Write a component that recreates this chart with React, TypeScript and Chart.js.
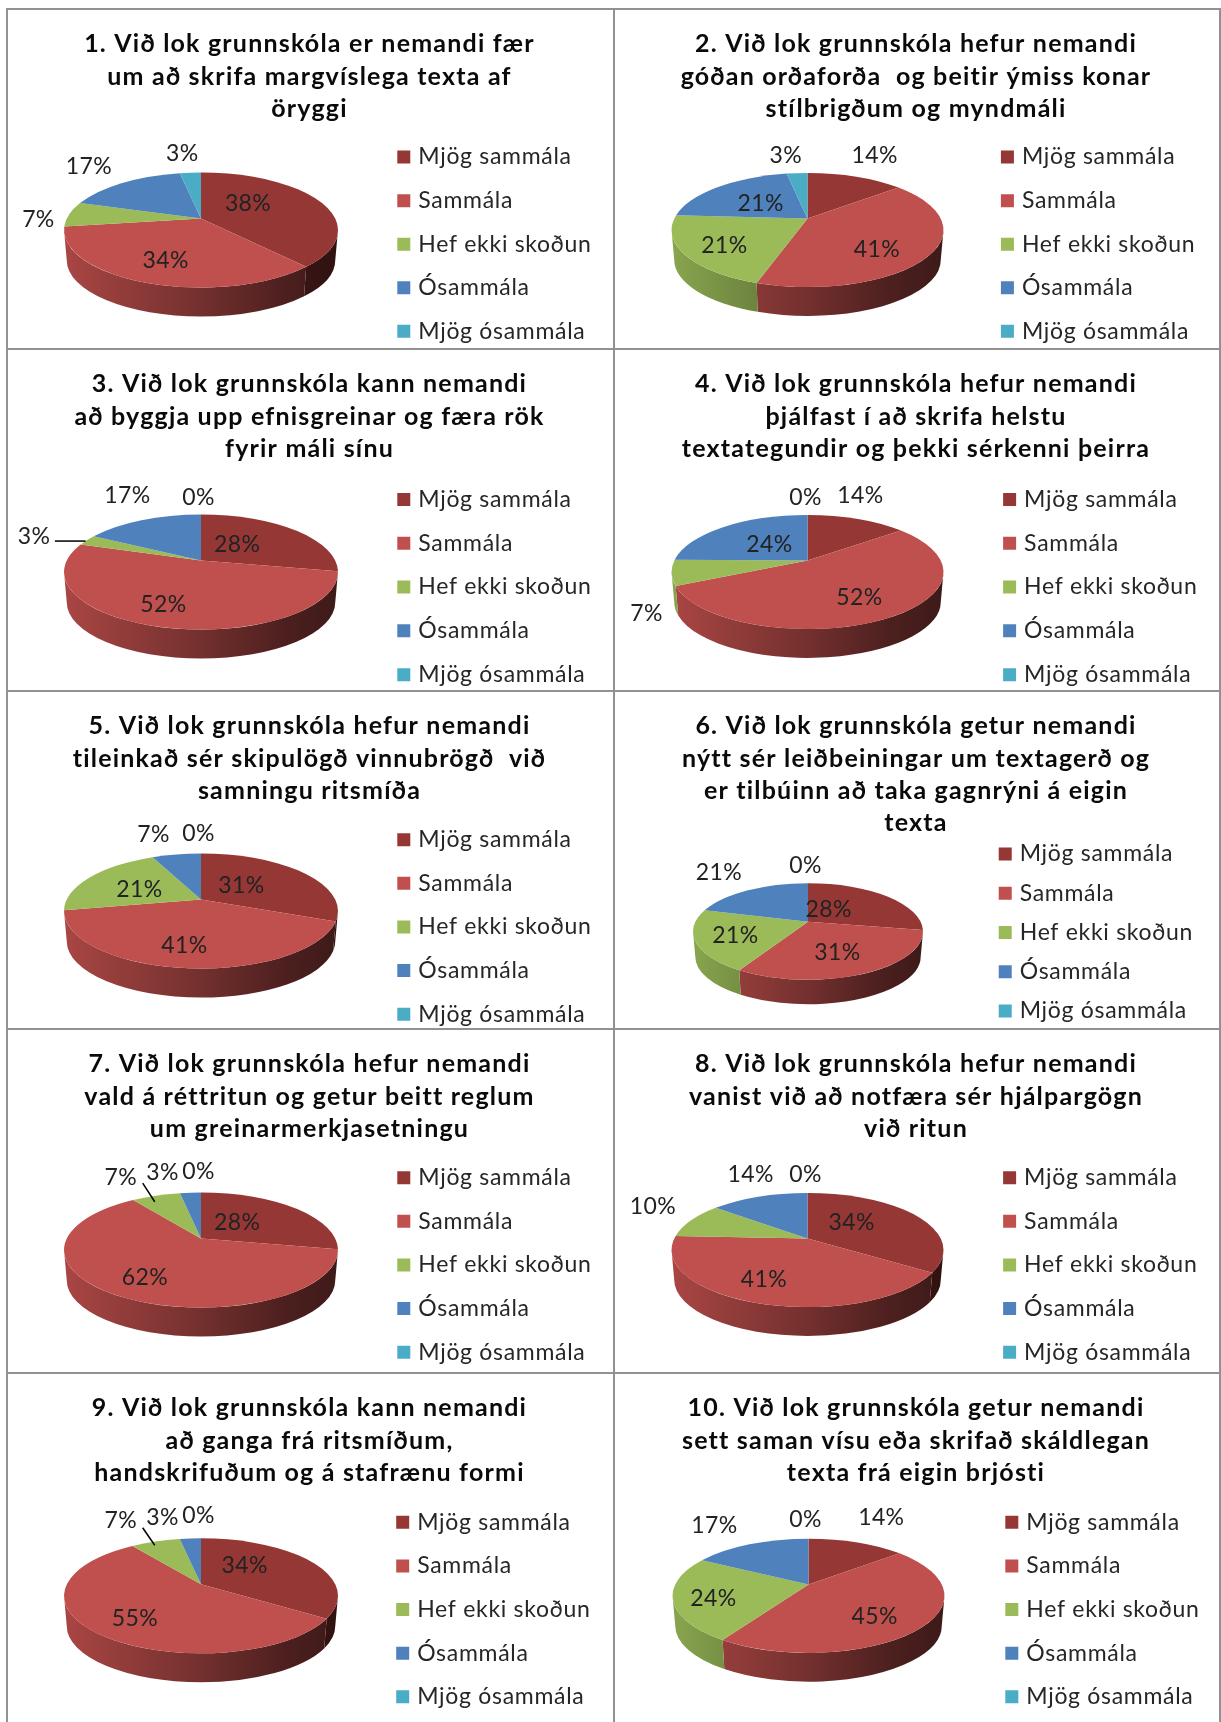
import React, { useEffect, useRef } from "react";
import { Chart, registerables } from "chart.js";

Chart.register(...registerables);

const categories = ["Mjög sammála", "Sammála", "Hef ekki skoðun", "Ósammála", "Mjög ósammála"];
const sliceColors = ["#953735", "#C0504D", "#9BBB59", "#4F81BD", "#4BACC6"];

const titles = [
  ["1. Við lok grunnskóla er nemandi fær", "um að skrifa margvíslega texta af", "öryggi"],
  ["2. Við lok grunnskóla hefur nemandi", "góðan orðaforða  og beitir ýmiss konar", "stílbrigðum og myndmáli"],
  ["3. Við lok grunnskóla kann nemandi", "að byggja upp efnisgreinar og færa rök", "fyrir máli sínu"],
  ["4. Við lok grunnskóla hefur nemandi", "þjálfast í að skrifa helstu", "textategundir og þekki sérkenni þeirra"],
  ["5. Við lok grunnskóla hefur nemandi", "tileinkað sér skipulögð vinnubrögð  við", "samningu ritsmíða"],
  ["6. Við lok grunnskóla getur nemandi", "nýtt sér leiðbeiningar um textagerð og", "er tilbúinn að taka gagnrýni á eigin", "texta"],
  ["7. Við lok grunnskóla hefur nemandi", "vald á réttritun og getur beitt reglum", "um greinarmerkjasetningu"],
  ["8. Við lok grunnskóla hefur nemandi", "vanist við að notfæra sér hjálpargögn", "við ritun"],
  ["9. Við lok grunnskóla kann nemandi", "að ganga frá ritsmíðum,", "handskrifuðum og á stafrænu formi"],
  ["10. Við lok grunnskóla getur nemandi", "sett saman vísu eða skrifað skáldlegan", "texta frá eigin brjósti"],
];

const values = [
  [38, 34, 7, 17, 3],
  [14, 41, 21, 21, 3],
  [28, 52, 3, 17, 0],
  [14, 52, 7, 24, 0],
  [31, 41, 21, 7, 0],
  [28, 31, 21, 21, 0],
  [28, 62, 7, 3, 0],
  [34, 41, 10, 14, 0],
  [34, 55, 7, 3, 0],
  [14, 45, 24, 17, 0],
];

// ---- layout only (page pixels) ----
const colX = [6, 613, 1219];
const rowY = [9, 349, 691, 1029, 1373, 1733];
const S = 1.0975; // label spots below were read on a 1113-wide view of the page

const pieRadius = [137, 136, 137, 136, 137, 115, 137, 136, 137, 136];
const pieCy = [221, 221, 223, 223, 220, 240.5, 221, 221, 222.8, 222.8];
const pieCx = [195, 194.5, 195, 194.5, 195, 195, 195, 194.5, 195, 195.5];
const legendX = [362, 912, 362, 914, 362, 910, 362, 914, 361, 916];
const legendFirstY = [142, 142, 454, 454, 764, 777, 1072, 1072, 1386, 1386];
const legendStep = [39.7, 39.7, 39.9, 39.9, 39.75, 35.75, 39.75, 39.75, 39.75, 39.75];

const labelSpots = [
  [[226, 184], [151, 236], [35, 198], [81, 150], [166, 138]],
  [[797, 140], [799, 226], [660, 222], [693, 184], [716, 140]],
  [[216, 494], [149, 549], [31, 487], [116, 450], [181, 452]],
  [[784, 450], [783, 543], [589, 557], [701, 494], [734, 452]],
  [[220, 805], [168, 860], [127, 809], [140, 759], [181, 758]],
  [[755, 827], [763, 866], [670, 851], [655, 793], [734, 787]],
  [[216, 1112], [132, 1162], [110, 1071], [148, 1067], [181, 1066]],
  [[776, 1112], [696, 1164], [595, 1098], [684, 1068], [734, 1068]],
  [[223, 1425], [123, 1473], [110, 1384], [148, 1381], [181, 1379]],
  [[803, 1381], [797, 1471], [650, 1455], [651, 1388], [734, 1383]],
];
const leaders: Record<number, number[]> = {
  2: [50, 493, 78, 493],
  6: [130, 1078, 141, 1095],
  8: [130, 1392, 141, 1408],
};

const FONT = "Lato, Carlito, sans-serif";
const LABEL_SIZE = 23;
const LABEL_TRACK = "0.7px";
const TITLE_SIZE = 25;
const TITLE_TRACK = "1.2px";
const TITLE_LINE = 32.4;
const TITLE_TOP = 19;
const SWATCH = 13;
const SWATCH_SLOT = 6; // the legend's text starts closer to the square than Chart.js' default

const ELLIPSE = 0.42; // minor / major axis
const DEPTH = 0.22; // wall height / major axis
const TILT = 0.2; // how far the apex sits above the ellipse centre

function shade(hex: string, f: number) {
  const n = parseInt(hex.slice(1), 16);
  const c = [(n >> 16) & 255, (n >> 8) & 255, n & 255].map((v) => Math.round(v * f));
  return `rgb(${c[0]},${c[1]},${c[2]})`;
}

// Perspective: the unit circle is mapped on itself, with its centre moved up.
function project(theta: number) {
  const X = Math.cos(theta);
  const Y = Math.sin(theta);
  const k = 1 - TILT * Y;
  const x = (X * Math.sqrt(1 - TILT * TILT)) / k;
  const y = (Y - TILT) / k;
  let phi = Math.atan2(y, x);
  phi += 2 * Math.PI * Math.round((theta - phi) / (2 * Math.PI));
  return phi;
}

function tracked(box: any, ctx: any, spacing: string) {
  const draw = box.draw;
  box.draw = function (area: any) {
    ctx.letterSpacing = spacing;
    draw.call(this, area);
    ctx.letterSpacing = "0px";
  };
}

function makePiePlugin(index: number, left: number, top: number) {
  return {
    id: "pie3d",
    afterInit(chart: any) {
      tracked(chart.titleBlock, chart.ctx, TITLE_TRACK);
      tracked(chart.legend, chart.ctx, LABEL_TRACK);
    },
    afterLayout(chart: any) {
      const title = chart.titleBlock;
      title.left = 0;
      title.right = chart.width;
      const legend = chart.legend;
      const pad = legendStep[index] * S - LABEL_SIZE;
      legend.maxHeight = 2000;
      legend.maxWidth = 2000;
      legend.fit();
      legend.left = legendX[index] * S - left - pad + (SWATCH - SWATCH_SLOT) / 2;
      legend.top = legendFirstY[index] * S - 8 * S - top + 9 - pad - LABEL_SIZE / 2 + 1;
      legend.right = legend.left + legend.width;
      legend.bottom = legend.top + legend.height + 500;
      legend.adjustHitBoxes();
    },
    beforeDatasetsDraw(chart: any) {
      const ctx = chart.ctx;
      const arcs = chart.getDatasetMeta(0).data;
      ctx.save();
      arcs.forEach((arc: any, i: number) => {
        if (arc.endAngle - arc.startAngle <= 0) return;
        const a = arc.outerRadius;
        const b = a * ELLIPSE;
        const depth = a * DEPTH;
        const from = Math.max(project(arc.startAngle), 0);
        const to = Math.min(project(arc.endAngle), Math.PI);
        if (to > from) {
          const g = ctx.createLinearGradient(arc.x - a, 0, arc.x + a, 0);
          const base = sliceColors[i];
          g.addColorStop(0, shade(base, 0.88));
          g.addColorStop(0.5, shade(base, 0.6));
          g.addColorStop(0.8, shade(base, 0.4));
          g.addColorStop(1, shade(base, 0.32));
          ctx.fillStyle = g;
          ctx.beginPath();
          ctx.ellipse(arc.x, arc.y, a, b, 0, from, to);
          ctx.ellipse(arc.x, arc.y + depth, a * 0.98, b * 0.98, 0, to, from, true);
          ctx.closePath();
          ctx.fill();
        }
      });
      arcs.forEach((arc: any, i: number) => {
        if (arc.endAngle - arc.startAngle <= 0) return;
        const a = arc.outerRadius;
        const b = a * ELLIPSE;
        ctx.fillStyle = sliceColors[i];
        ctx.beginPath();
        ctx.moveTo(arc.x, arc.y - TILT * b);
        ctx.ellipse(arc.x, arc.y, a, b, 0, project(arc.startAngle), project(arc.endAngle));
        ctx.closePath();
        ctx.fill();
      });
      ctx.restore();
      return false;
    },
    afterDraw(chart: any) {
      const ctx = chart.ctx;
      ctx.save();
      ctx.letterSpacing = "0.4px";
      ctx.fillStyle = "#222222";
      ctx.font = `${LABEL_SIZE}px ${FONT}`;
      ctx.textAlign = "center";
      ctx.textBaseline = "middle";
      values[index].forEach((v, i) => {
        const [x, y] = labelSpots[index][i];
        ctx.fillText(`${v}%`, x * S - left, y * S - top + 2);
      });
      const line = leaders[index];
      if (line) {
        ctx.strokeStyle = "#000";
        ctx.lineWidth = 1.5;
        ctx.beginPath();
        ctx.moveTo(line[0] * S - left, line[1] * S - top);
        ctx.lineTo(line[2] * S - left, line[3] * S - top);
        ctx.stroke();
      }
      ctx.restore();
    },
  };
}

function Panel({ index }: { index: number }) {
  const ref = useRef<HTMLCanvasElement | null>(null);
  const col = index % 2;
  const row = Math.floor(index / 2);
  const left = colX[col];
  const top = rowY[row];
  const width = colX[col + 1] - left;
  const height = rowY[row + 1] - top;

  useEffect(() => {
    const titleBottom = TITLE_TOP + titles[index].length * TITLE_LINE;
    const chart = new Chart(ref.current as HTMLCanvasElement, {
      type: "pie",
      data: {
        labels: categories,
        datasets: [
          {
            data: values[index],
            backgroundColor: sliceColors,
            borderWidth: 0,
            radius: pieRadius[index],
          } as any,
        ],
      },
      options: {
        animation: false,
        responsive: false,
        devicePixelRatio: 1,
        layout: {
          padding: {
            left: 0,
            top: 0,
            right: width - 2 * pieCx[index],
            bottom: height - (2 * pieCy[index] - titleBottom),
          },
        },
        plugins: {
          title: {
            display: true,
            text: titles[index],
            color: "#0a0a0a",
            font: { family: FONT, size: TITLE_SIZE, weight: "bold", lineHeight: TITLE_LINE / TITLE_SIZE },
            padding: { top: TITLE_TOP, bottom: 0 },
          },
          legend: {
            display: true,
            position: "chartArea",
            align: "start",
            labels: {
              usePointStyle: true,
              pointStyle: "rect",
              boxWidth: SWATCH_SLOT,
              boxHeight: SWATCH,
              padding: legendStep[index] * S - LABEL_SIZE,
              color: "#262626",
              font: { family: FONT, size: LABEL_SIZE },
            },
          },
          tooltip: { enabled: false },
        },
      } as any,
      plugins: [makePiePlugin(index, left, top)] as any,
    });
    return () => chart.destroy();
  }, [index, left, top, width, height]);

  return (
    <div
      style={{
        position: "absolute",
        left,
        top: top - 1,
        width: width + 2,
        height: height + 2,
        boxSizing: "border-box",
        border: "2px solid #929292",
      }}
    >
      <canvas
        ref={ref}
        width={width}
        height={height}
        style={{ position: "absolute", left: -2, top: -1, width, height }}
      />
    </div>
  );
}

export default function App() {
  return (
    <div
      style={{
        position: "absolute",
        left: 0,
        top: 0,
        width: 1221,
        height: 1722,
        overflow: "hidden",
        background: "#fff",
      }}
    >
      {titles.map((_, i) => (
        <Panel key={i} index={i} />
      ))}
    </div>
  );
}
